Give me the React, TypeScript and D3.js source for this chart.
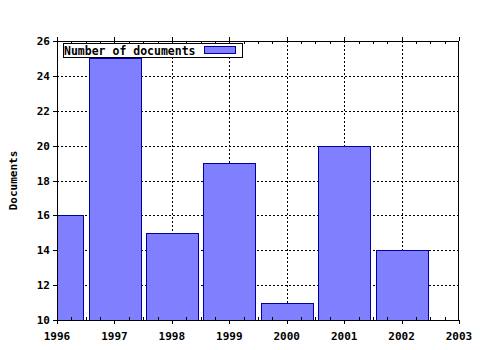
import React from "react";
import * as d3 from "d3";

const years = [1996, 1997, 1998, 1999, 2000, 2001, 2002];
const documents = [16, 25, 15, 19, 11, 20, 14];
const xTicks = [1996, 1997, 1998, 1999, 2000, 2001, 2002, 2003];
const yTicks = [10, 12, 14, 16, 18, 20, 22, 24, 26];
const legendLabel = "Number of documents";
const yLabel = "Documents";

const W = 480, H = 350;
const M = { left: 57, right: 21, top: 41, bottom: 30 };
const FONT = "'DejaVu Sans Mono', monospace";

export default function App() {
  const x = d3.scaleLinear().domain([1996, 2003]).range([M.left, W - M.right]);
  const y = d3.scaleLinear().domain([10, 26]).range([H - M.bottom, M.top]);
  const x0 = M.left, x1 = W - M.right, y0 = H - M.bottom, y1 = M.top;
  const step = x(1997) - x(1996);
  const bw = step * 0.9;
  const minorX = d3.range(1996, 2003.001, 0.25).filter((v) => Math.abs(v - Math.round(v)) > 1e-6);

  return (
    <svg width={W} height={H} style={{ position: "absolute", left: 0, top: 0, background: "#fff" }}>
      <defs>
        <clipPath id="plot">
          <rect x={x0} y={y1} width={x1 - x0} height={y0 - y1} />
        </clipPath>
      </defs>
      {/* grid */}
      <g stroke="#000" strokeWidth={1} strokeDasharray="2,2" shapeRendering="crispEdges">
        {yTicks.slice(1, -1).map((t) => (
          <line key={"gy" + t} x1={x0} x2={x1} y1={Math.round(y(t)) + 0.5} y2={Math.round(y(t)) + 0.5} />
        ))}
        {xTicks.slice(1, -1).map((t) => (
          <line key={"gx" + t} x1={Math.round(x(t)) + 0.5} x2={Math.round(x(t)) + 0.5} y1={y1} y2={y0} />
        ))}
      </g>
      {/* bars */}
      <g clipPath="url(#plot)">
        {years.map((yr, i) => (
          <rect
            key={yr}
            x={Math.round(x(yr) - bw / 2) + 0.5}
            y={Math.round(y(documents[i])) + 0.5}
            width={Math.round(bw)}
            height={Math.round(y0 - y(documents[i]))}
            fill="#8080ff"
            stroke="#0000a0"
            strokeWidth={1}
          />
        ))}
      </g>
      {/* frame */}
      <rect x={x0 + 0.5} y={y1 + 0.5} width={x1 - x0 - 1} height={y0 - y1} fill="none" stroke="#000" strokeWidth={1} shapeRendering="crispEdges" />
      {/* x ticks */}
      <g stroke="#000" strokeWidth={1} shapeRendering="crispEdges">
        {xTicks.map((t) => (
          <g key={"xt" + t}>
            <line x1={Math.round(x(t)) + 0.5} x2={Math.round(x(t)) + 0.5} y1={y0} y2={y0 + 4} />
            <line x1={Math.round(x(t)) + 0.5} x2={Math.round(x(t)) + 0.5} y1={y1} y2={y1 - 4} />
          </g>
        ))}
        {minorX.map((t) => (
          <g key={"xm" + t}>
            <line x1={Math.round(x(t)) + 0.5} x2={Math.round(x(t)) + 0.5} y1={y0} y2={y0 - 3} />
            <line x1={Math.round(x(t)) + 0.5} x2={Math.round(x(t)) + 0.5} y1={y1} y2={y1 + 3} />
          </g>
        ))}
        {yTicks.map((t) => (
          <line key={"yt" + t} x1={x0 - 4} x2={x0} y1={Math.round(y(t)) + 0.5} y2={Math.round(y(t)) + 0.5} />
        ))}
      </g>
      {/* tick labels */}
      <g fontFamily={FONT} fontWeight="bold" fontSize={11} fill="#000">
        {xTicks.map((t) => (
          <text key={"xl" + t} x={x(t)} y={y0 + 20} textAnchor="middle">{t}</text>
        ))}
        {yTicks.map((t) => (
          <text key={"yl" + t} x={x0 - 7} y={y(t) + 4} textAnchor="end">{t}</text>
        ))}
        <text transform={`translate(17,${(y0 + y1) / 2}) rotate(-90)`} textAnchor="middle">{yLabel}</text>
      </g>
      {/* legend */}
      <g>
        <rect x={63.5} y={43.5} width={179} height={14} fill="#fff" stroke="#000" strokeWidth={1} />
        <text x={64} y={54.5} fontFamily={FONT} fontWeight="bold" fontSize={11.5} fill="#000">{legendLabel}</text>
        <rect x={204.5} y={46.5} width={31} height={7} fill="#8080ff" stroke="#0000a0" strokeWidth={1} />
      </g>
    </svg>
  );
}
